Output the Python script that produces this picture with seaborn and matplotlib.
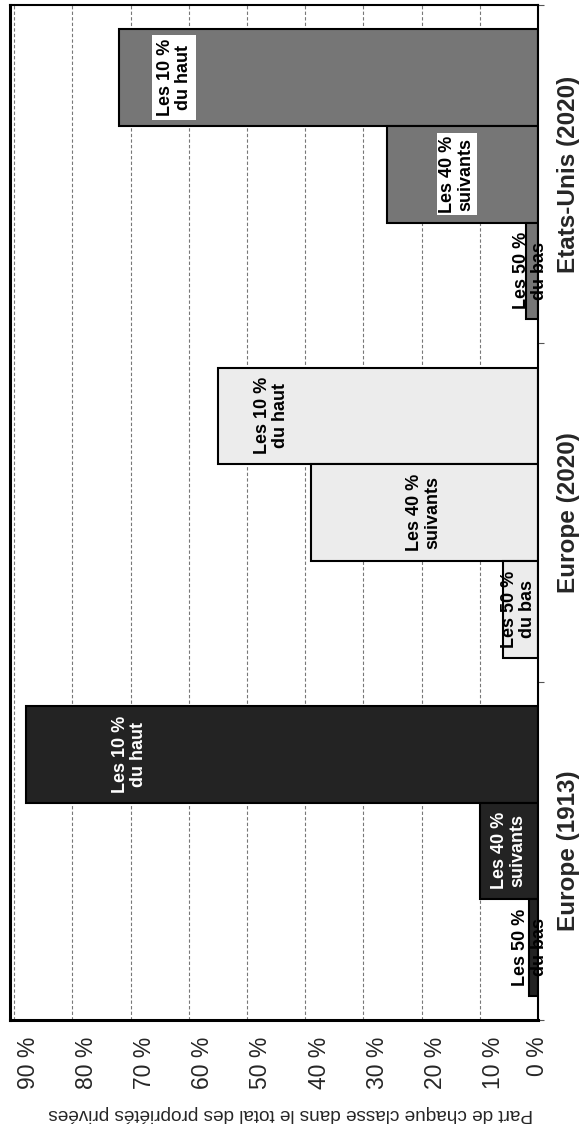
import pandas as pd
import matplotlib.pyplot as plt
import matplotlib.transforms as mtransforms
import seaborn as sns

# Parts de chaque classe dans le total des propriétés privées (%)
groupes = ["Etats-Unis (2020)", "Europe (2020)", "Europe (1913)"]
classes = ["Les 10 %\ndu haut", "Les 40 %\nsuivants", "Les 50 %\ndu bas"]
part_haut = [72, 55, 88]
part_milieu = [26, 39, 10]
part_bas = [2, 6, 1.5]
ticks_pct = [0, 10, 20, 30, 40, 50, 60, 70, 80, 90]

# style
couleurs_groupes = ["#767676", "#ececec", "#232323"]
# where the label text sits along the value axis, per class then per groupe
pos_etiquettes = [[62.5, 45.8, 70.2], [13.9, 19.7, 5.1], [1.3, 3.4, 1.4]]

df = pd.DataFrame({
    "groupe": groupes * 3,
    "classe": [c for c in classes for _ in groupes],
    "part": part_haut + part_milieu + part_bas,
})

sns.set_style("white")
plt.rcParams["font.family"] = ["Liberation Sans", "DejaVu Sans"]

fig = plt.figure(figsize=(5.81, 11.33), dpi=100)
ax = fig.add_axes([10 / 581, 113 / 1133, 528 / 581, 1015 / 1133])

sns.barplot(data=df, x="part", y="groupe", hue="classe", order=groupes,
            hue_order=classes, orient="h", width=6 / 7, dodge=True,
            edgecolor="black", linewidth=1.5, saturation=1, errorbar=None,
            legend=False, ax=ax, zorder=3)

for i, cont in enumerate(ax.containers):
    for bar in cont:
        yc = bar.get_y() + bar.get_height() / 2
        g = int(round(yc))
        bar.set_facecolor(couleurs_groupes[g])
        txt_color = "white" if g == 2 and i < 2 else "black"
        box = None
        if g == 0 and i < 2:
            box = dict(facecolor="white", edgecolor="none", pad=3 if i == 0 else 1.5)
        ax.text(pos_etiquettes[i][g], yc, classes[i], rotation=90, ha="center",
                va="center", fontsize=13, fontweight="bold", color=txt_color,
                linespacing=1.1, bbox=box, zorder=5)

ax.set_xlim(90.7, 0)
ax.set_ylim(2.5, -0.5)
ax.set_xticks(ticks_pct)
ax.set_xticklabels([f"{t} %" for t in ticks_pct], rotation=90, fontsize=16.5)
ax.tick_params(axis="x", length=4, width=0.8, pad=8, color="#555555")
# the printed labels sit a little to the right of their gridline (except 0 %)
decalage = mtransforms.ScaledTranslation(14 / 100, 0, fig.dpi_scale_trans)
for t, lab in zip(ticks_pct, ax.get_xticklabels()):
    if t != 0:
        lab.set_transform(lab.get_transform() + decalage)
ax.grid(axis="x", linestyle=(0, (3, 2)), linewidth=0.8, color="#777777", zorder=0)
ax.set_axisbelow(True)

ax.yaxis.tick_right()
ax.set_yticks(range(len(groupes)))
ax.set_yticklabels(groupes, rotation=90, va="center", fontsize=17.5, fontweight="bold")
ax.tick_params(axis="y", length=0, pad=14)
ax.set_yticks([-0.5, 0.5, 1.5, 2.5], minor=True)
ax.tick_params(axis="y", which="minor", length=4, width=0.8, color="#555555")
ax.set_ylabel("")

ax.set_xlabel("Part de chaque classe dans le total des propriétés privées",
              fontsize=13.7, rotation=180)
ax.xaxis.set_label_coords(0.532, -0.0926)
ax.xaxis.label.set_verticalalignment("center")

for side in ["left", "bottom"]:
    ax.spines[side].set_linewidth(2.2)
for side in ["top", "right"]:
    ax.spines[side].set_linewidth(1.5)
for s in ax.spines.values():
    s.set_color("black")
    s.set_zorder(6)

plt.savefig("out.png", dpi=100)
plt.close()
